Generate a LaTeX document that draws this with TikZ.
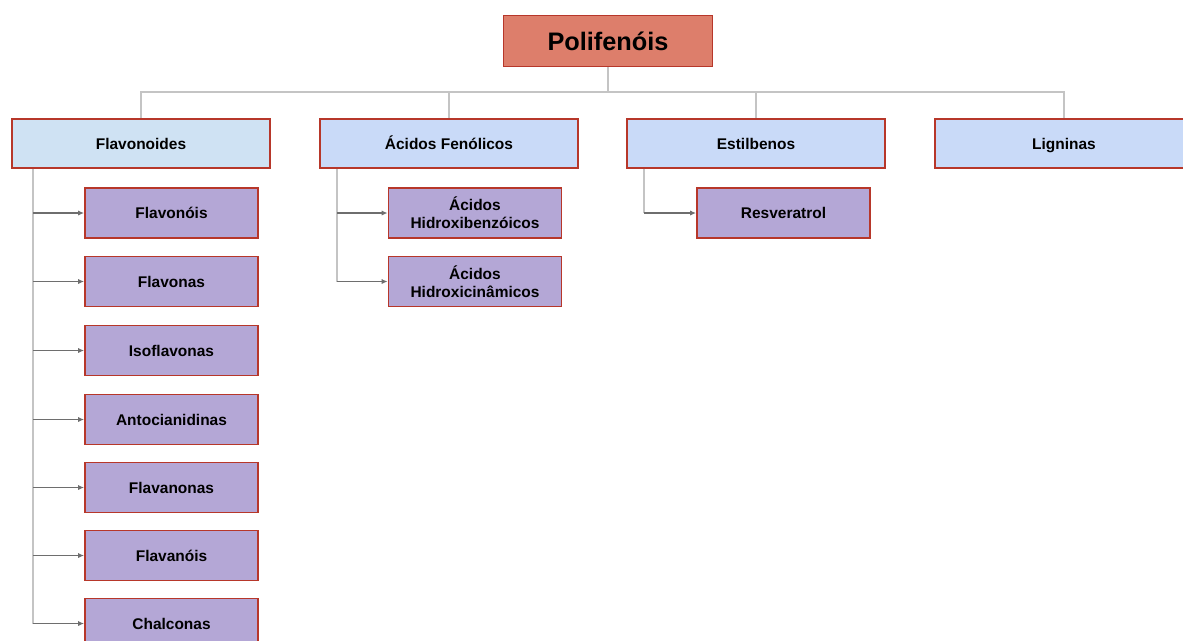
\documentclass[tikz,border=0pt]{standalone}
\usepackage{fontspec}
\setmainfont{Liberation Sans}
\usepackage{tikz}
\usetikzlibrary{arrows.meta}
\usetikzlibrary{calc,positioning}

\definecolor{redfill}{HTML}{DD7E6B}
\definecolor{redline}{HTML}{B7372A}
\definecolor{bluefill}{HTML}{CFE2F3}
\definecolor{cornfill}{HTML}{C9DAF8}
\definecolor{purplefill}{HTML}{B4A7D6}
\definecolor{treegrey}{HTML}{C4C4C4}
\definecolor{arrowgrey}{HTML}{6E6E6E}

\tikzset{
  box/.style={draw=redline,line width=1.2pt,inner sep=2pt,align=center,
    font=\fontsize{11}{12.5}\selectfont\bfseries},
  oneline/.style={text height=8.5pt,text depth=0.5pt},
  topbox/.style={box,fill=redfill,minimum width=5.225cm,minimum height=1.275cm,
    font=\fontsize{18}{20}\selectfont\bfseries},
  groupbox/.style={box,oneline,fill=cornfill,minimum width=6.45cm,minimum height=1.225cm},
  twobox/.style={box,fill=purplefill,minimum width=4.325cm,minimum height=1.25cm},
  itembox/.style={twobox,oneline},
  tree/.style={draw=treegrey,line width=1.3pt},
  leaf/.style={draw=arrowgrey,line width=0.9pt,-{Latex[length=1.5mm,width=1.3mm]}}
}

\begin{document}
\begin{tikzpicture}[x=0.025cm,y=-0.025cm]
            \useasboundingbox (0,0) rectangle (1183,640);

            \node[topbox] (poli) at (608,41) {Polifenóis};

            \node[groupbox,fill=bluefill] (flav) at (141,143.5) {Flavonoides};
            \node[groupbox] (acid) at (449,143.5) {Ácidos Fenólicos};
            \node[groupbox] (esti) at (756,143.5) {Estilbenos};
            \node[groupbox] (lign) at (1064,143.5) {Ligninas};

            \draw[tree] (poli.south) -- ++(0,25) -| (flav.north);
            \draw[tree] (poli.south) -- ++(0,25) -| (acid.north);
            \draw[tree] (poli.south) -- ++(0,25) -| (esti.north);
            \draw[tree] (poli.south) -- ++(0,25) -| (lign.north);

            \node[itembox] (fol) at (171.5,213) {Flavonóis};
            \node[itembox] (fon) at (171.5,281.5) {Flavonas};
            \node[itembox] (iso) at (171.5,350.5) {Isoflavonas};
            \node[itembox] (ant) at (171.5,419.5) {Antocianidinas};
            \node[itembox] (fan) at (171.5,487.5) {Flavanonas};
            \node[itembox] (fal) at (171.5,555.5) {Flavanóis};
            \node[itembox] (cha) at (171.5,623.5) {Chalconas};

            \node[twobox] (hben) at (475,213) {Ácidos\\Hidroxibenzóicos};
            \node[twobox] (hcin) at (475,281.5) {Ácidos\\Hidroxicinâmicos};

            \node[itembox] (resv) at (783.5,213) {Resveratrol};

            % stems under the groups
            \coordinate (fstem) at ($(flav.south west)+(22,0)$);
            \coordinate (astem) at ($(acid.south west)+(18,0)$);
            \coordinate (estem) at ($(esti.south west)+(18,0)$);

            \draw[tree] (fstem) -- (fstem |- cha.west);
            \draw[tree] (astem) -- (astem |- hcin.west);
            \draw[tree] (estem) -- (estem |- resv.west);

            \draw[leaf] (fstem |- fol.west) -- (fol.west);
            \draw[leaf] (fstem |- fon.west) -- (fon.west);
            \draw[leaf] (fstem |- iso.west) -- (iso.west);
            \draw[leaf] (fstem |- ant.west) -- (ant.west);
            \draw[leaf] (fstem |- fan.west) -- (fan.west);
            \draw[leaf] (fstem |- fal.west) -- (fal.west);
            \draw[leaf] (fstem |- cha.west) -- (cha.west);

            \draw[leaf] (astem |- hben.west) -- (hben.west);
            \draw[leaf] (astem |- hcin.west) -- (hcin.west);

            \draw[leaf] (estem |- resv.west) -- (resv.west);
\end{tikzpicture}
\end{document}
